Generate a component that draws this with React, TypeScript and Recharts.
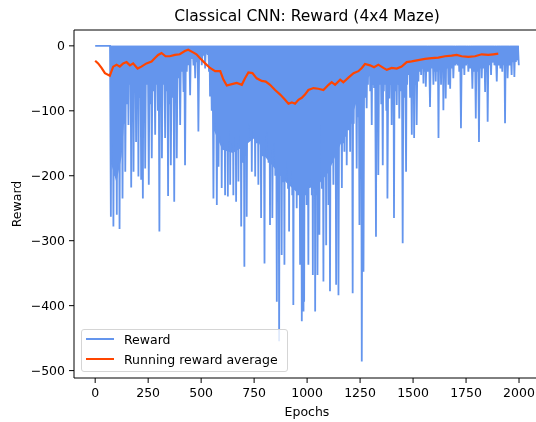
import {
  Area,
  ComposedChart,
  Line,
  ReferenceLine,
  XAxis,
  YAxis,
} from "recharts";

const FONT = "'DejaVu Sans', sans-serif";
const REWARD_COLOR = "#6495ED";
const AVG_COLOR = "#FF4500";

const epochTicks = [0, 250, 500, 750, 1000, 1250, 1500, 1750, 2000];
const rewardTicks = [-500, -400, -300, -200, -100, 0];

// matplotlib pads the data range by 5% on each side
const epochDomain = [-99.95, 2098.95];
const rewardDomain = [-511.4, 24.4];

// reward stays at 0 for the first epochs
const flatUntil = 70;

// bottom of each visible dip: [epoch, reward]
const rewardDips: [number, number][] = [
  [74, -263], [80, -150], [86, -278], [94, -200], [102, -260], [108, -180],
  [115, -282], [122, -150], [129, -235], [136, -120], [142, -194], [150, -90],
  [157, -122], [164, -60], [170, -218], [176, -100], [181, -194], [187, -70],
  [193, -148], [198, -90], [204, -201], [210, -80], [217, -206], [225, -235],
  [230, -100], [236, -189], [244, -60], [253, -214], [260, -90], [267, -173],
  [275, -70], [283, -137], [290, -60], [296, -100], [303, -286], [309, -80],
  [315, -173], [322, -60], [330, -142], [337, -70], [344, -231], [350, -90],
  [357, -184], [365, -80], [373, -240], [379, -60], [385, -173], [393, -50],
  [401, -122], [409, -40], [417, -71], [424, -184], [432, -40], [440, -30],
  [448, -76], [455, -20], [464, -30], [472, -50], [480, -25], [487, -132],
  [495, -20], [503, -30], [511, -15], [519, -35], [525, -12], [531, -14],
  [537, -40], [542, -78], [550, -100], [558, -235], [566, -120], [574, -245],
  [582, -186], [590, -140], [597, -219], [605, -150], [613, -230], [620, -160],
  [626, -232], [632, -130], [637, -214], [645, -150], [652, -230], [658, -140],
  [665, -240], [671, -150], [676, -209], [682, -130], [689, -278], [697, -180],
  [704, -340], [710, -160], [715, -263], [723, -120], [731, -142], [739, -194],
  [747, -130], [755, -201], [762, -150], [770, -214], [776, -150], [783, -265],
  [790, -170], [799, -335], [805, -140], [810, -132], [818, -180], [825, -276],
  [830, -160], [836, -265], [845, -150], [850, -200], [857, -394], [862, -220],
  [868, -455], [874, -200], [880, -322], [886, -210], [893, -337], [898, -200],
  [904, -178], [910, -220], [915, -286], [920, -210], [924, -194], [930, -230],
  [935, -399], [942, -220], [951, -250], [958, -230], [967, -337], [975, -424],
  [979, -210], [983, -409], [986, -394], [992, -230], [998, -245], [1006, -337],
  [1011, -210], [1017, -204], [1022, -230], [1027, -353], [1033, -220], [1038, -409],
  [1044, -230], [1049, -353], [1058, -291], [1064, -122], [1070, -220], [1077, -363],
  [1083, -200], [1090, -307], [1095, -190], [1101, -245], [1108, -378], [1115, -180],
  [1124, -214], [1130, -170], [1137, -368], [1142, -180], [1148, -384], [1156, -150],
  [1164, -219], [1170, -150], [1176, -163], [1181, -140], [1187, -184], [1195, -130],
  [1203, -163], [1209, -120], [1215, -381], [1220, -120], [1226, -89], [1234, -189],
  [1240, -110], [1247, -276], [1252, -100], [1258, -486], [1266, -348], [1273, -80],
  [1281, -96], [1287, -60], [1292, -40], [1298, -70], [1305, -122], [1310, -60],
  [1316, -65], [1325, -294], [1330, -70], [1336, -199], [1344, -60], [1350, -90],
  [1357, -184], [1362, -70], [1368, -60], [1374, -100], [1379, -235], [1388, -81],
  [1394, -60], [1399, -122], [1405, -80], [1410, -265], [1416, -70], [1423, -91],
  [1429, -60], [1435, -112], [1443, -70], [1451, -304], [1458, -80], [1467, -194],
  [1472, -60], [1478, -45], [1486, -80], [1494, -137], [1500, -70], [1505, -142],
  [1511, -60], [1517, -122], [1525, -55], [1531, -40], [1538, -45], [1543, -35],
  [1549, -58], [1555, -40], [1560, -63], [1570, -40], [1580, -94], [1588, -35],
  [1596, -60], [1601, -40], [1607, -55], [1614, -40], [1620, -142], [1626, -35],
  [1632, -60], [1638, -40], [1643, -99], [1648, -40], [1654, -81], [1660, -35],
  [1667, -60], [1675, -66], [1682, -35], [1690, -50], [1700, -30], [1711, -30],
  [1718, -40], [1726, -127], [1734, -35], [1742, -45], [1750, -30], [1761, -40],
  [1770, -35], [1780, -66], [1788, -40], [1796, -112], [1803, -40], [1811, -148],
  [1818, -35], [1824, -50], [1832, -35], [1840, -71], [1846, -40], [1852, -117],
  [1860, -30], [1868, -45], [1876, -25], [1884, -30], [1895, -55], [1903, -30],
  [1912, -35], [1921, -40], [1928, -30], [1934, -119], [1940, -30], [1946, -50],
  [1955, -30], [1965, -45], [1971, -25], [1978, -48], [1985, -25], [1991, -20],
  [1999, -30],
];

// lower edge of the solid band where the dips are too dense to tell apart
const denseBand: [number, number][] = [
  [0, 0], [70, 0], [74, -180], [100, -210], [125, -170], [140, -100], [160, -50],
  [250, -45], [350, -40], [420, -35], [440, -15], [470, -15], [530, -10],
  [545, -40], [560, -130], [600, -160], [650, -165], [700, -155], [760, -140],
  [800, -170], [850, -190], [900, -210], [950, -225], [1000, -220], [1050, -215],
  [1100, -195], [1160, -150], [1200, -120], [1240, -80], [1270, -55],
  [1300, -45], [1400, -50], [1480, -40], [1550, -35], [1700, -28], [1800, -28],
  [1999, -22],
];

const runningAvg: [number, number][] = [
  [0, -23], [14, -27], [30, -34], [46, -42], [69, -46], [85, -32], [101, -29],
  [116, -32], [132, -27], [148, -25], [164, -30], [179, -27], [200, -35],
  [218, -32], [242, -27], [266, -24], [281, -19], [297, -14], [313, -11],
  [332, -16], [352, -16], [376, -14], [399, -13], [423, -8], [439, -6],
  [462, -10], [478, -13], [495, -19], [519, -27], [542, -34], [566, -39],
  [590, -39], [605, -52], [621, -61], [645, -59], [668, -57], [692, -60],
  [707, -50], [723, -41], [742, -42], [762, -50], [786, -54], [805, -55],
  [825, -60], [849, -68], [873, -75], [896, -83], [912, -89], [928, -87],
  [943, -89], [959, -83], [975, -80], [990, -75], [1006, -68], [1030, -65],
  [1053, -66], [1077, -68], [1101, -60], [1116, -56], [1132, -60], [1156, -52],
  [1171, -56], [1195, -49], [1219, -42], [1242, -39], [1258, -34], [1273, -28],
  [1297, -30], [1316, -33], [1336, -29], [1360, -34], [1376, -37], [1399, -34],
  [1423, -35], [1446, -32], [1470, -25], [1493, -24], [1525, -22], [1556, -20],
  [1588, -19], [1619, -18], [1651, -16], [1682, -15], [1706, -14], [1729, -16],
  [1761, -17], [1792, -16], [1824, -13], [1855, -14], [1879, -13], [1902, -12],
];

// between two dips the reward climbs back to 0
const rewardData: { epoch: number; reward: number }[] = [
  { epoch: 0, reward: 0 },
  { epoch: flatUntil, reward: 0 },
];
rewardDips.forEach(([epoch, reward], i) => {
  if (i > 0) {
    rewardData.push({ epoch: (rewardDips[i - 1][0] + epoch) / 2, reward: 0 });
  }
  rewardData.push({ epoch, reward });
});

const bandData = denseBand.map(([epoch, band]) => ({ epoch, band }));
const avgData = runningAvg.map(([epoch, avg]) => ({ epoch, avg }));

const tickStyle = { fill: "#000", fontSize: 12.5, fontFamily: FONT };
const fmtReward = (v: number) => (v < 0 ? `\u2212${Math.abs(v)}` : `${v}`);

const legendItems = [
  { name: "Reward", color: REWARD_COLOR },
  { name: "Running reward average", color: AVG_COLOR },
];

export default function App() {
  return (
    // fixed so the right edge of the figure is not clipped by #root
    <div
      style={{
        position: "fixed",
        left: 8,
        top: 8,
        width: 528,
        height: 414,
        overflow: "hidden",
        fontFamily: FONT,
      }}
    >
      <div
        style={{
          position: "absolute",
          left: 299,
          top: 0,
          transform: "translateX(-50%)",
          fontSize: 15.5,
          lineHeight: "16px",
          color: "#000",
          whiteSpace: "nowrap",
        }}
      >
        Classical CNN: Reward (4x4 Maze)
      </div>
      <ComposedChart
        width={534}
        height={414}
        margin={{ top: 22, right: 2, bottom: 0, left: 0 }}
      >
        <XAxis
          dataKey="epoch"
          type="number"
          domain={epochDomain}
          ticks={epochTicks}
          allowDataOverflow
          height={44}
          tick={tickStyle}
          tickSize={5}
          tickMargin={5}
          tickLine={{ stroke: "#000" }}
          axisLine={{ stroke: "#000" }}
          label={{
            value: "Epochs",
            position: "insideBottom",
            offset: 6,
            fill: "#000",
            fontSize: 12.5,
            fontFamily: FONT,
          }}
        />
        <YAxis
          type="number"
          domain={rewardDomain}
          ticks={rewardTicks}
          allowDataOverflow
          width={66}
          tick={tickStyle}
          tickFormatter={fmtReward}
          tickSize={5}
          tickMargin={4}
          tickLine={{ stroke: "#000" }}
          axisLine={{ stroke: "#000" }}
          label={{
            value: "Reward",
            angle: -90,
            position: "insideLeft",
            offset: 9,
            fill: "#000",
            fontSize: 12.5,
            fontFamily: FONT,
            style: { textAnchor: "middle" },
          }}
        />
        <Area
          data={bandData}
          dataKey="band"
          type="linear"
          baseValue={0}
          fill={REWARD_COLOR}
          fillOpacity={1}
          stroke="none"
          isAnimationActive={false}
        />
        <Line
          data={rewardData}
          dataKey="reward"
          type="linear"
          stroke={REWARD_COLOR}
          strokeWidth={1.8}
          dot={false}
          isAnimationActive={false}
        />
        <Line
          data={avgData}
          dataKey="avg"
          type="linear"
          stroke={AVG_COLOR}
          strokeWidth={2.2}
          dot={false}
          isAnimationActive={false}
        />
        <ReferenceLine y={rewardDomain[1]} stroke="#000" />
      </ComposedChart>
      <div
        style={{
          position: "absolute",
          left: 73,
          top: 321,
          width: 207,
          height: 43,
          boxSizing: "border-box",
          border: "1px solid #d5d5d5",
          borderRadius: 3,
          background: "rgba(255,255,255,0.8)",
          fontSize: 12.5,
          color: "#000",
        }}
      >
        {legendItems.map((item, i) => (
          <div
            key={item.name}
            style={{
              position: "absolute",
              left: 4,
              top: 1 + i * 20.4,
              height: 16,
              display: "flex",
              alignItems: "center",
              whiteSpace: "nowrap",
            }}
          >
            <span
              style={{
                display: "inline-block",
                width: 28,
                height: 2,
                background: item.color,
                marginRight: 10,
              }}
            />
            {item.name}
          </div>
        ))}
      </div>
    </div>
  );
}
